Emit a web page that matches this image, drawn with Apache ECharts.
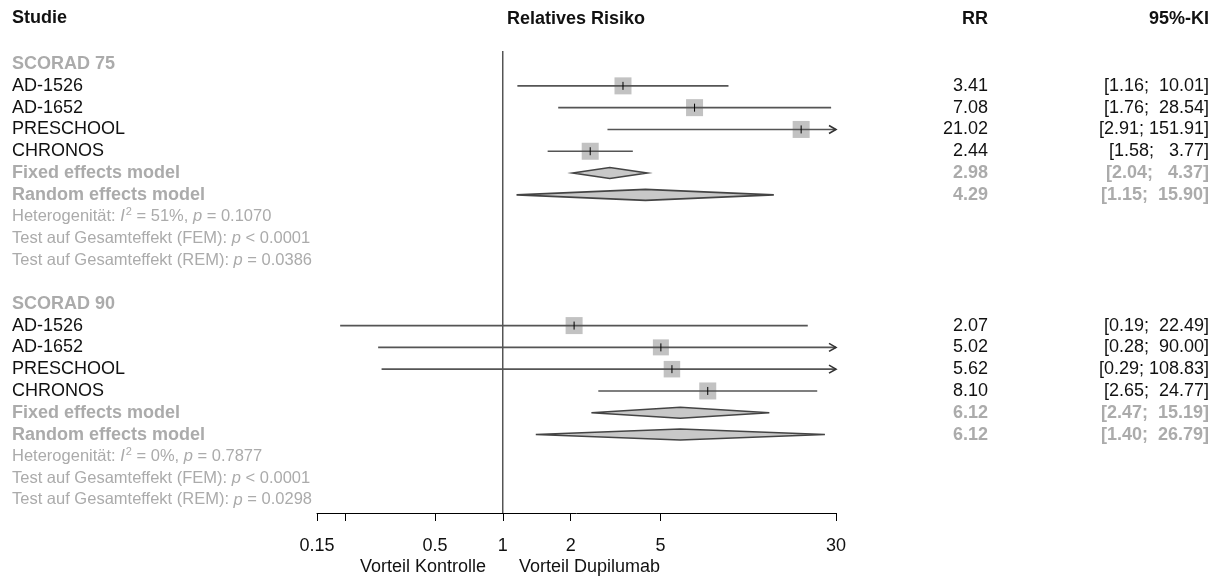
<!DOCTYPE html>
<html>
<head>
<meta charset="utf-8">
<script src="https://cdn.jsdelivr.net/npm/echarts@6/dist/echarts.min.js"></script>
<style>
  html, body { margin: 0; background: #fff; }
  #main { width: 1220px; height: 579px; }
</style>
</head>
<body>
<div id="main"></div>
<script>
// Studien und Werte (relatives Risiko mit 95%-KI)
var studien = ['AD-1526', 'AD-1652', 'PRESCHOOL', 'CHRONOS'];

var rr75 = [3.41, 7.08, 21.02, 2.44];
var unten75 = [1.16, 1.76, 2.91, 1.58];
var oben75 = [10.01, 28.54, 151.91, 3.77];
var gewicht75 = [17, 17, 17, 17];
var fixed75 = [2.98, 2.04, 4.37];
var random75 = [4.29, 1.15, 15.90];

var rr90 = [2.07, 5.02, 5.62, 8.10];
var unten90 = [0.19, 0.28, 0.29, 2.65];
var oben90 = [22.49, 90.00, 108.83, 24.77];
var gewicht90 = [17, 16, 16.5, 17];
var fixed90 = [6.12, 2.47, 15.19];
var random90 = [6.12, 1.40, 26.79];

var i2Werte = ['51%', '0%'];
var hetP = ['0.1070', '0.7877'];
var femP = ['< 0.0001', '< 0.0001'];
var remP = ['= 0.0386', '= 0.0298'];

var tickWerte = [0.15, 0.2, 0.5, 1, 2, 5, 30];
var labelWerte = [0.15, 0.5, 1, 2, 5, 30];
var tickLabels = ['0.15', '0.5', '1', '2', '5', '30'];

var FONT = '"Liberation Sans", Arial, Helvetica, sans-serif';
var GRAU = '#ababab';
var xMin = Math.log10(0.15), xMax = Math.log10(30);

function lg(v) { return Math.log10(v); }
function kiText(lo, hi) {
  var a = lo.toFixed(2), b = hi.toFixed(2);
  while (b.length < 6) b = ' ' + b;
  return '[' + a + ';' + (b.length > 6 ? '' : ' ') + b + ']';
}

// Zeilen aufbauen (Zeile 0 = oben)
var zeilen = [], studienDaten = [], diamanten = [];
function gruppe(start, name, rr, lo, hi, gw, fx, rd, k) {
  zeilen.push({ row: start, typ: 'gruppe', text: name });
  for (var i = 0; i < studien.length; i++) {
    var r = start + 1 + i;
    zeilen.push({ row: r, typ: 'studie', text: studien[i], rr: rr[i].toFixed(2), ki: kiText(lo[i], hi[i]) });
    studienDaten.push([lg(lo[i]), lg(hi[i]), lg(rr[i]), r, gw[i]]);
  }
  zeilen.push({ row: start + 5, typ: 'modell', text: 'Fixed effects model', rr: fx[0].toFixed(2), ki: kiText(fx[1], fx[2]) });
  zeilen.push({ row: start + 6, typ: 'modell', text: 'Random effects model', rr: rd[0].toFixed(2), ki: kiText(rd[1], rd[2]) });
  diamanten.push([lg(fx[1]), lg(fx[2]), lg(fx[0]), start + 5]);
  diamanten.push([lg(rd[1]), lg(rd[2]), lg(rd[0]), start + 6]);
  zeilen.push({ row: start + 7, typ: 'stat', text: 'Heterogenität: {i|I}{s|2} = ' + i2Werte[k] + ', {i|p} = ' + hetP[k] });
  zeilen.push({ row: start + 8, typ: 'stat', text: 'Test auf Gesamteffekt (FEM): {i|p} ' + femP[k] });
  zeilen.push({ row: start + 9, typ: 'stat', text: 'Test auf Gesamteffekt (REM): {i|p} ' + remP[k] });
}
gruppe(0, 'SCORAD 75', rr75, unten75, oben75, gewicht75, fixed75, random75, 0);
gruppe(11, 'SCORAD 90', rr90, unten90, oben90, gewicht90, fixed90, random90, 1);

function txt(x, y, s, opt) {
  opt = opt || {};
  return {
    type: 'text', x: x, y: y,
    style: {
      text: s, fill: opt.fill || '#111', fontSize: opt.size || 18,
      fontWeight: opt.bold ? 'bold' : 'normal', fontFamily: FONT,
      align: opt.align || 'left', verticalAlign: 'middle',
      textAlign: opt.align || 'left', textVerticalAlign: 'middle',
      rich: opt.rich
    }
  };
}

function zeichneText(params, api) {
  var z = zeilen[params.dataIndex];
  var y = api.coord([xMin, z.row])[1];
  var kids = [];
  if (z.typ === 'gruppe') {
    kids.push(txt(12, y, z.text, { bold: true, fill: GRAU }));
  } else if (z.typ === 'studie') {
    kids.push(txt(12, y, z.text));
    kids.push(txt(988, y, z.rr, { align: 'right' }));
    kids.push(txt(1209, y, z.ki, { align: 'right' }));
  } else if (z.typ === 'modell') {
    kids.push(txt(12, y, z.text, { bold: true, fill: GRAU }));
    kids.push(txt(988, y, z.rr, { align: 'right', bold: true, fill: GRAU }));
    kids.push(txt(1209, y, z.ki, { align: 'right', bold: true, fill: GRAU }));
  } else {
    kids.push(txt(12, y, z.text, {
      size: 16.5, fill: GRAU,
      rich: {
        i: { fontStyle: 'italic', fontSize: 16.5, fontFamily: FONT, fill: GRAU },
        s: { fontSize: 11, fontFamily: FONT, fill: GRAU, padding: [0, 0, 9, 1] }
      }
    }));
  }
  return { type: 'group', children: kids };
}

function zeichneStudie(params, api) {
  var lo = api.value(0), hi = api.value(1), est = api.value(2), row = api.value(3), s = api.value(4);
  var p1 = api.coord([Math.max(lo, xMin), row]);
  var p2 = api.coord([Math.min(hi, xMax), row]);
  var pm = api.coord([est, row]);
  var kids = [
    { type: 'rect', shape: { x: pm[0] - s / 2, y: pm[1] - s / 2, width: s, height: s }, style: { fill: '#c2c2c2' } },
    { type: 'line', shape: { x1: p1[0], y1: p1[1], x2: p2[0], y2: p2[1] }, style: { stroke: '#555', lineWidth: 1.6 } },
    { type: 'line', shape: { x1: pm[0], y1: pm[1] - 4, x2: pm[0], y2: pm[1] + 4 }, style: { stroke: '#000', lineWidth: 1 } }
  ];
  if (hi > xMax) {
    kids.push({
      type: 'polyline',
      shape: { points: [[p2[0] - 7, p2[1] - 4], [p2[0], p2[1]], [p2[0] - 7, p2[1] + 4]] },
      style: { stroke: '#333', lineWidth: 1.6, fill: null }
    });
  }
  return { type: 'group', children: kids };
}

function zeichneDiamant(params, api) {
  var row = api.value(3);
  var a = api.coord([api.value(0), row]);
  var b = api.coord([api.value(1), row]);
  var m = api.coord([api.value(2), row]);
  var h = 5.5;
  return {
    type: 'polygon',
    shape: { points: [[a[0], a[1]], [m[0], m[1] - h], [b[0], b[1]], [m[0], m[1] + h]] },
    style: { fill: '#c8c8c8', stroke: '#444', lineWidth: 1.6 }
  };
}

var chart = echarts.init(document.getElementById('main'), null, { renderer: 'canvas' });
chart.setOption({
  animation: false,
  backgroundColor: '#fff',
  grid: { left: 317, width: 519, top: 51, height: 462 },
  xAxis: {
    type: 'value', min: xMin, max: xMax, position: 'bottom',
    splitLine: { show: false },
    axisLine: { show: true, onZero: false, lineStyle: { color: '#000', width: 1 } },
    axisTick: { show: true, length: 8, customValues: tickWerte.map(lg), lineStyle: { color: '#000' } },
    axisLabel: {
      customValues: labelWerte.map(lg), margin: 24,
      fontSize: 18, fontFamily: FONT, color: '#111',
      formatter: function (v) {
        var best = 0;
        for (var i = 1; i < labelWerte.length; i++) {
          if (Math.abs(lg(labelWerte[i]) - v) < Math.abs(lg(labelWerte[best]) - v)) best = i;
        }
        return tickLabels[best];
      }
    }
  },
  yAxis: { type: 'value', inverse: true, min: -0.6, max: 20.6, show: false },
  graphic: [
    { type: 'text', left: 12, top: 9, style: { text: 'Studie', fontSize: 18, fontWeight: 'bold', fontFamily: FONT, fill: '#111' } },
    { type: 'text', x: 576, y: 19, style: { text: 'Relatives Risiko', fontSize: 18, fontWeight: 'bold', fontFamily: FONT, fill: '#111', align: 'center', verticalAlign: 'middle' } },
    { type: 'text', x: 988, y: 19, style: { text: 'RR', fontSize: 18, fontWeight: 'bold', fontFamily: FONT, fill: '#111', align: 'right', verticalAlign: 'middle' } },
    { type: 'text', x: 1209, y: 19, style: { text: '95%-KI', fontSize: 18, fontWeight: 'bold', fontFamily: FONT, fill: '#111', align: 'right', verticalAlign: 'middle' } },
    { type: 'text', x: 486, y: 567, style: { text: 'Vorteil Kontrolle', fontSize: 18, fontFamily: FONT, fill: '#111', align: 'right', verticalAlign: 'middle' } },
    { type: 'text', x: 519, y: 567, style: { text: 'Vorteil Dupilumab', fontSize: 18, fontFamily: FONT, fill: '#111', align: 'left', verticalAlign: 'middle' } }
  ],
  series: [
    {
      type: 'line', name: 'Referenz', data: [[0, -0.6], [0, 20.6]],
      symbol: 'none', lineStyle: { color: '#000', width: 1 }, z: 1
    },
    { type: 'custom', name: 'Studien', renderItem: zeichneStudie, data: studienDaten, z: 3 },
    { type: 'custom', name: 'Modelle', renderItem: zeichneDiamant, data: diamanten, z: 3 },
    { type: 'custom', name: 'Tabelle', renderItem: zeichneText, data: zeilen.map(function (z) { return [xMin, z.row]; }), z: 4 }
  ]
});
</script>
</body>
</html>
